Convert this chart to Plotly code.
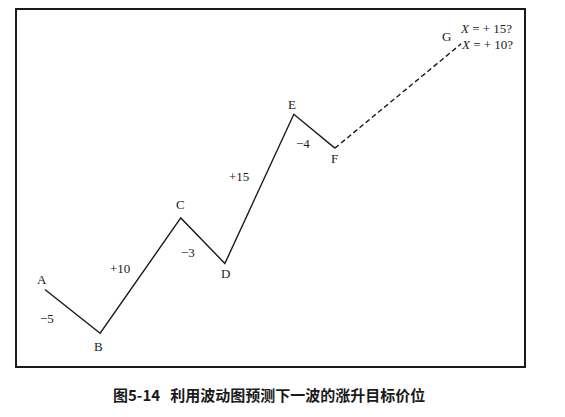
import plotly.graph_objects as go

# Wave points (x, y in chart units 0-100)
points = ["A", "B", "C", "D", "E", "F", "G"]
x_vals = [5.5, 16.4, 32.3, 41.0, 54.6, 62.7, 87.6]
y_vals = [21.5, 9.2, 41.6, 28.8, 70.7, 61.2, 90.5]

# Swing labels
swing_text = ["−5", "+10", "−3", "+15", "−4"]
swing_x = [5.9, 20.3, 33.7, 43.8, 56.4]
swing_y = [13.4, 27.4, 31.8, 53.1, 62.6]

# Point-letter label positions
label_x = [4.9, 16.0, 32.3, 41.2, 54.2, 62.7, 84.8]
label_y = [24.3, 5.6, 45.3, 26.0, 73.5, 58.4, 92.5]

target_text = ["<i>X</i> = + 15?", "<i>X</i> = + 10?"]
target_x = [92.5, 92.7]
target_y = [94.7, 90.2]

caption = "图5-14   利用波动图预测下一波的涨升目标价位"

serif = "Liberation Serif, Times New Roman, serif"
ink = "#1a1a1a"

fig = go.Figure()
fig.add_trace(go.Scatter(x=x_vals[:6], y=y_vals[:6], mode="lines",
                         line=dict(color=ink, width=1.4), hoverinfo="skip"))
fig.add_trace(go.Scatter(x=x_vals[5:], y=y_vals[5:], mode="lines",
                         line=dict(color=ink, width=1.4, dash="5px,3px"), hoverinfo="skip"))

ann = []
for t, x, y in zip(points, label_x, label_y):
    ann.append(dict(x=x, y=y, text=t, showarrow=False, xref="x", yref="y",
                    font=dict(family=serif, size=13, color=ink)))
for t, x, y in zip(swing_text, swing_x, swing_y):
    ann.append(dict(x=x, y=y, text=t, showarrow=False, xref="x", yref="y",
                    font=dict(family=serif, size=13, color=ink)))
for t, x, y in zip(target_text, target_x, target_y):
    ann.append(dict(x=x, y=y, text=t, showarrow=False, xref="x", yref="y",
                    font=dict(family=serif, size=13, color=ink)))
ann.append(dict(x=(269 - 17) / 507, y=(366 - 395) / 358, xref="paper", yref="paper",
                xanchor="center", yanchor="middle", text="<b>" + caption + "</b>",
                showarrow=False, font=dict(family="Noto Sans CJK SC", size=15, color=ink)))

fig.update_layout(
    width=565, height=417,
    margin=dict(l=17, r=41, t=8, b=51),
    paper_bgcolor="white", plot_bgcolor="white",
    showlegend=False,
    annotations=ann,
    xaxis=dict(range=[0, 100], showgrid=False, zeroline=False, showticklabels=False,
               ticks="", showline=True, linecolor=ink, linewidth=2, mirror=True),
    yaxis=dict(range=[0, 100], showgrid=False, zeroline=False, showticklabels=False,
               ticks="", showline=True, linecolor=ink, linewidth=2, mirror=True),
)
fig.write_html("out.html", config={"displayModeBar": False},
               post_script="document.body.style.margin='0';document.body.style.overflow='hidden';")
